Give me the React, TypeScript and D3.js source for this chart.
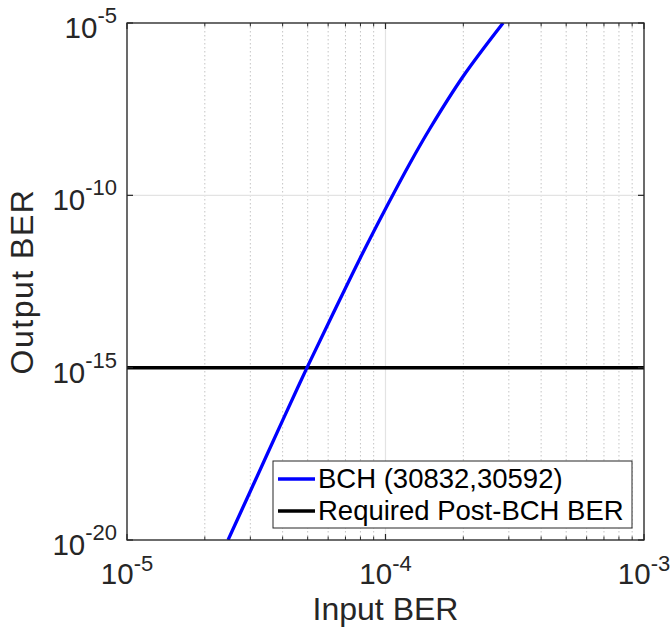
import React from "react";
import * as d3 from "d3";

const inputBer = [2.46e-5, 3.0e-5, 4.0e-5, 4.97e-5, 6.27e-5, 7.97e-5, 1.023e-4, 1.245e-4, 1.486e-4, 1.995e-4, 2.85e-4];
const outputBer = [1e-20, 2.6e-19, 2.95e-17, 1.0e-15, 3.72e-14, 1.48e-12, 5.6e-11, 8.7e-10, 8.7e-9, 2.8e-7, 1.0e-5];
const requiredBer = 1e-15;
const xTickExps = [-5, -4, -3];
const yTickExps = [-20, -15, -10, -5];
const seriesNames = ["BCH (30832,30592)", "Required Post-BCH BER"];
const seriesColors = ["#0000ff", "#000000"];

const W = 670, H = 628;
const L = 127, R = 644, T = 23, B = 540;
const FONT = "'Liberation Sans', Arial, Helvetica, sans-serif";
const AX = "#262626";

export default function App() {
  const x = d3.scaleLog().domain([1e-5, 1e-3]).range([L, R]);
  const y = d3.scaleLog().domain([1e-20, 1e-5]).range([B, T]);

  const minorX: number[] = [];
  for (let e = -5; e < -3; e++) for (let m = 2; m <= 9; m++) minorX.push(m * Math.pow(10, e));

  const line = d3
    .line<number>()
    .x((_, i) => x(inputBer[i]))
    .y((d) => y(d))
    .curve(d3.curveCatmullRom.alpha(0.5));
  const path = line(outputBer) || "";

  return (
    <svg width={W} height={H} style={{ position: "absolute", left: 0, top: 0 }} fontFamily={FONT}>
      <rect x={0} y={0} width={W} height={H} fill="#fff" />
      <defs>
        <clipPath id="plotclip">
          <rect x={L} y={T} width={R - L} height={B - T} />
        </clipPath>
      </defs>
      {/* minor grid */}
      {minorX.map((v, i) => (
        <line key={"mg" + i} x1={x(v)} x2={x(v)} y1={T} y2={B} stroke="#c4c4c4" strokeWidth={1} strokeDasharray="1.5,2.5" />
      ))}
      {/* major grid */}
      {xTickExps.map((e) => (
        <line key={"gx" + e} x1={x(Math.pow(10, e))} x2={x(Math.pow(10, e))} y1={T} y2={B} stroke="#e3e3e3" strokeWidth={1.2} />
      ))}
      {yTickExps.map((e) => (
        <line key={"gy" + e} x1={L} x2={R} y1={y(Math.pow(10, e))} y2={y(Math.pow(10, e))} stroke="#e3e3e3" strokeWidth={1.2} />
      ))}
      <g clipPath="url(#plotclip)">
        <line x1={L} x2={R} y1={y(requiredBer)} y2={y(requiredBer)} stroke={seriesColors[1]} strokeWidth={3.5} />
        <path d={path} fill="none" stroke={seriesColors[0]} strokeWidth={3.3} />
      </g>
      {/* ticks */}
      {minorX.map((v, i) => (
        <g key={"mt" + i}>
          <line x1={x(v)} x2={x(v)} y1={B} y2={B - 3.5} stroke={AX} strokeWidth={1} />
          <line x1={x(v)} x2={x(v)} y1={T} y2={T + 3.5} stroke={AX} strokeWidth={1} />
        </g>
      ))}
      {xTickExps.map((e) => (
        <g key={"xt" + e}>
          <line x1={x(Math.pow(10, e))} x2={x(Math.pow(10, e))} y1={B} y2={B - 6} stroke={AX} strokeWidth={1.2} />
          <line x1={x(Math.pow(10, e))} x2={x(Math.pow(10, e))} y1={T} y2={T + 6} stroke={AX} strokeWidth={1.2} />
        </g>
      ))}
      {yTickExps.map((e) => (
        <g key={"yt" + e}>
          <line x1={L} x2={L + 6} y1={y(Math.pow(10, e))} y2={y(Math.pow(10, e))} stroke={AX} strokeWidth={1.2} />
          <line x1={R} x2={R - 6} y1={y(Math.pow(10, e))} y2={y(Math.pow(10, e))} stroke={AX} strokeWidth={1.2} />
        </g>
      ))}
      {/* box */}
      <rect x={L} y={T} width={R - L} height={B - T} fill="none" stroke={AX} strokeWidth={1.3} />
      {/* x tick labels */}
      {xTickExps.map((e) => (
        <text key={"xl" + e} x={x(Math.pow(10, e))} y={584} textAnchor="middle" fill={AX} fontSize={29.5}>
          <tspan>10</tspan>
          <tspan dy={-13} fontSize={22}>{String(e)}</tspan>
        </text>
      ))}
      {/* y tick labels */}
      {yTickExps.map((e) => (
        <text key={"yl" + e} x={117} y={y(Math.pow(10, e)) + 15} textAnchor="end" fill={AX} fontSize={29.5}>
          <tspan>10</tspan>
          <tspan dy={-15} fontSize={22}>{String(e)}</tspan>
        </text>
      ))}
      {/* axis titles */}
      <text x={(L + R) / 2} y={620} textAnchor="middle" fill={AX} fontSize={32}>Input BER</text>
      <text transform={`translate(33, ${(T + B) / 2}) rotate(-90)`} textAnchor="middle" fill={AX} fontSize={32} letterSpacing={1.5}>Output BER</text>
      {/* legend */}
      <rect x={273} y={461} width={359} height={67} fill="#fff" stroke={AX} strokeWidth={1} />
      {seriesNames.map((n, i) => (
        <g key={"lg" + i}>
          <line x1={278} x2={315} y1={479 + i * 32} y2={479 + i * 32} stroke={seriesColors[i]} strokeWidth={3.3} />
          <text x={318} y={488 + i * 32} fill="#000" fontSize={27.5}>{n}</text>
        </g>
      ))}
    </svg>
  );
}
